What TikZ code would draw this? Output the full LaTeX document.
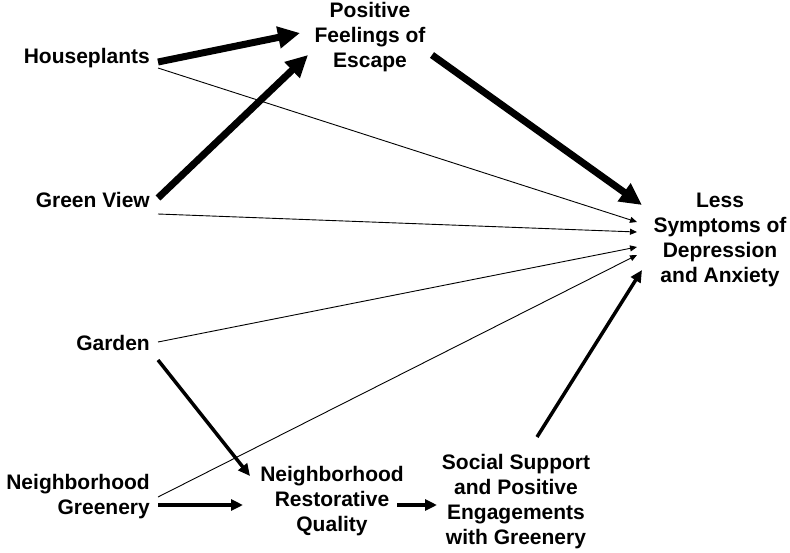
\documentclass[tikz,border=0pt]{standalone}
\usepackage{fontspec}
\setmainfont{Liberation Sans}
\usetikzlibrary{arrows.meta}
\begin{document}
\begin{tikzpicture}[x=1pt,y=-1pt,
  lbl/.style={font=\bfseries\fontsize{21}{25}\selectfont, align=center, inner sep=0pt},
  lblr/.style={font=\bfseries\fontsize{21}{25}\selectfont, align=right, inner sep=0pt, anchor=east},
  thick arr/.style={line width=7pt, -{Triangle[length=22pt,width=21pt]}},
  mid arr/.style={line width=3.5pt, -{Triangle[length=12pt,width=11pt]}},
  thin arr/.style={line width=0.9pt, -{Triangle[length=7pt,width=6pt]}}]
\useasboundingbox (0,0) rectangle (790,552);
\node[lblr] (hp) at (150,58) {Houseplants};
\node[lblr] (gv) at (150,200) {Green View};
\node[lblr] (gd) at (150,343) {Garden};
\node[lblr] (ng) at (150,497) {Neighborhood\\Greenery};
\node[lbl] (pfe) at (370,37) {Positive\\Feelings of\\Escape};
\node[lbl] (less) at (720,240) {Less\\Symptoms of\\Depression\\and Anxiety};
\node[lbl] (nrq) at (332,501) {Neighborhood\\Restorative\\Quality};
\node[lbl] (ss) at (516,502) {Social Support\\and Positive\\Engagements\\with Greenery};
% thick
\draw[thick arr] ([shift={(8,4)}]hp.east) -- ([shift={(-70,-4)}]pfe.center);
\draw[thick arr] ([shift={(8,-2)}]gv.east) -- ([shift={(-62,18)}]pfe.center);
\draw[thick arr] ([shift={(62,18)}]pfe.center) -- ([shift={(-78,-35)}]less.center);
% thin
\draw[thin arr] ([shift={(8,10)}]hp.east) -- ([shift={(-83,-18)}]less.center);
\draw[thin arr] ([shift={(8,14)}]gv.east) -- ([shift={(-83,-8)}]less.center);
\draw[thin arr] ([shift={(8,-1)}]gd.east) -- ([shift={(-83,7)}]less.center);
\draw[thin arr] ([shift={(8,0)}]ng.east) -- ([shift={(-83,15)}]less.center);
% medium
\draw[mid arr] ([shift={(8,17)}]gd.east) -- ([shift={(-82,-25)}]nrq.center);
\draw[mid arr] ([shift={(8,8)}]ng.east) -- ([shift={(-89,4)}]nrq.center);
\draw[mid arr] ([shift={(65,4)}]nrq.center) -- ([shift={(-79,3)}]ss.center);
\draw[mid arr] ([shift={(21,-65)}]ss.center) -- ([shift={(-78,30)}]less.center);
\end{tikzpicture}
\end{document}
